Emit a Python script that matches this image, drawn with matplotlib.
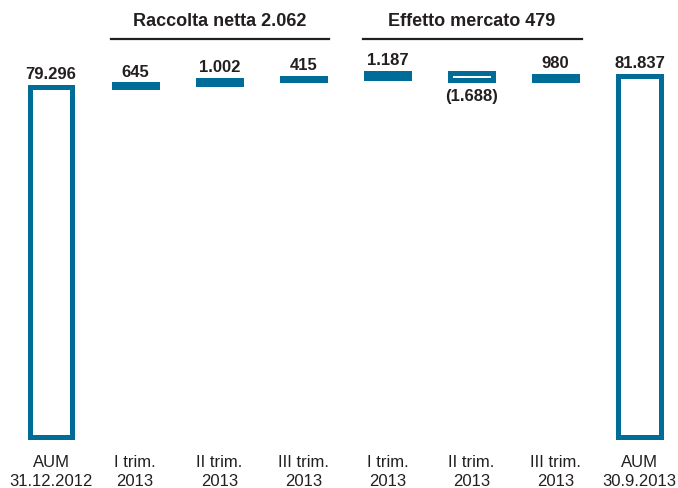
import matplotlib.pyplot as plt
import matplotlib.transforms as mtransforms

plt.rcParams['font.family'] = ['Liberation Sans Narrow', 'Liberation Sans', 'DejaVu Sans']

# AUM bridge, millions of euro
categories = ["AUM\n31.12.2012", "I trim.\n2013", "II trim.\n2013", "III trim.\n2013",
              "I trim.\n2013", "II trim.\n2013", "III trim.\n2013", "AUM\n30.9.2013"]
aum_start = 79296
flows = [645, 1002, 415]          # raccolta netta
market = [1187, -1688, 980]       # effetto mercato
aum_end = 81837
value_labels = ["79.296", "645", "1.002", "415", "1.187", "(1.688)", "980", "81.837"]
group_titles = ["Raccolta netta 2.062", "Effetto mercato 479"]

blue = "#006c98"
dark = "#231f20"

W, H = 678, 489
fig = plt.figure(figsize=(W / 100, H / 100), dpi=100)
ax = fig.add_axes([0, 0, 1, 1])
ax.set_axis_off()

# pixel geometry: first bar centre at x=51, spacing 84 px, baseline 51 px from bottom
px_per_unit = 350 / aum_start
ax.set_xlim(-51 / 84.1, (W - 51) / 84.1)
ax.set_ylim(-51 / px_per_unit, (H - 51) / px_per_unit)

# bottoms and heights for every column
steps = flows + market
bottoms = [0]
heights = [aum_start]
level = aum_start
for s in steps:
    if s >= 0:
        bottoms.append(level)
        heights.append(s)
    else:
        bottoms.append(level + s)
        heights.append(-s)
    level += s
bottoms.append(0)
heights.append(aum_end)

x = list(range(len(categories)))
lw = 3.6
ax.bar(x, heights, bottom=bottoms, width=0.51, color="white",
       edgecolor=blue, linewidth=lw)

# value labels
for i, (b, h, lab) in enumerate(zip(bottoms, heights, value_labels)):
    if i == 5:
        ax.annotate(lab, (i, b), xytext=(0, -6), textcoords="offset points",
                    ha="center", va="top", fontsize=12, fontweight="bold", color=dark)
    else:
        ax.annotate(lab, (i, b + h), xytext=(0, 4), textcoords="offset points",
                    ha="center", va="bottom", fontsize=12, fontweight="bold", color=dark)

# category labels under the baseline
trans = mtransforms.blended_transform_factory(ax.transData, ax.transAxes)
for i, cat in enumerate(categories):
    ax.text(i, 17 / H, cat, transform=trans, ha="center", va="center",
            fontsize=12, color=dark, linespacing=1.4)

# group headers with rules
for (a, b), title in zip([(1, 3), (4, 6)], group_titles):
    ax.plot([a - 0.29, b + 0.31], [(H - 40) / H] * 2, transform=trans,
            color=dark, linewidth=1.6, clip_on=False)
    ax.text((a + b) / 2, (H - 21) / H, title, transform=trans, ha="center",
            va="center", fontsize=13, fontweight="bold", color=dark)

plt.savefig("out.png", dpi=100)
